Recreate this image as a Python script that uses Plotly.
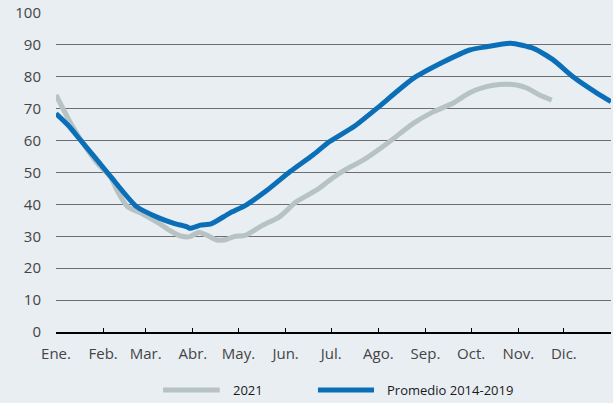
import plotly.graph_objects as go

# day of year / value pairs
days_2021 = [0, 9, 16, 27, 36, 40, 47, 57, 68, 76, 82, 88, 94, 99, 106, 112, 117,
             125, 136, 147, 158, 172, 180, 190, 202, 218, 235, 248, 261, 272, 283,
             292, 303, 310, 318, 326]
vals_2021 = [74.3, 66.0, 60.5, 53.0, 48.5, 44.5, 39.3, 37.0, 34.0, 31.5, 30.1, 29.9,
             31.3, 30.4, 28.8, 29.0, 29.9, 30.4, 33.5, 36.1, 40.8, 44.7, 47.6, 50.8,
             53.9, 59.2, 65.4, 69.0, 71.7, 75.0, 76.9, 77.6, 77.4, 76.4, 74.3, 72.7]

days_avg = [0, 8, 16, 26, 36, 53, 68, 78, 86, 88, 95, 102, 114, 125, 139, 154, 169,
            180, 196, 211, 235, 255, 272, 283, 299, 314, 327, 340, 356, 365]
vals_avg = [68.5, 64.8, 60.2, 54.5, 48.7, 39.3, 35.7, 34.0, 33.0, 32.5, 33.5, 33.9,
            37.2, 39.8, 44.5, 50.3, 55.5, 59.7, 64.4, 70.1, 79.5, 84.7, 88.4, 89.4,
            90.5, 88.9, 85.3, 80.0, 74.8, 72.2]

month_starts = [0, 31, 59, 90, 120, 151, 181, 212, 243, 273, 304, 334, 365]
month_labels = ["Ene.", "Feb.", "Mar.", "Abr.", "May.", "Jun.", "Jul.", "Ago.",
                "Sep.", "Oct.", "Nov.", "Dic.", ""]

GRAY = "#b6c3c2"
BLUE = "#0b6fb8"
BG = "#e9eef3"

fig = go.Figure()
fig.add_trace(go.Scatter(x=days_2021, y=vals_2021, mode="lines", name="2021",
                         line=dict(color=GRAY, width=5, shape="spline", smoothing=0.6)))
fig.add_trace(go.Scatter(x=days_avg, y=vals_avg, mode="lines", name="Promedio 2014-2019",
                         line=dict(color=BLUE, width=5, shape="spline", smoothing=0.6)))

# manual legend below the plot
legend_items = [("2021", GRAY, 0.193, 0.295, 0.315),
                ("Promedio 2014-2019", BLUE, 0.472, 0.573, 0.593)]
shapes = []
annotations = []
for label, color, x0, x1, xt in legend_items:
    shapes.append(dict(type="line", xref="paper", yref="paper", x0=x0, x1=x1,
                       y0=-0.182, y1=-0.182, line=dict(color=color, width=5)))
    annotations.append(dict(xref="paper", yref="paper", x=xt, y=-0.182, text=label,
                            showarrow=False, xanchor="left", yanchor="middle",
                            font=dict(size=13, color="#1a1a1a")))

fig.update_layout(
    width=613,
    height=403,
    paper_bgcolor=BG,
    plot_bgcolor=BG,
    margin=dict(l=56, r=2, t=13, b=71),
    showlegend=False,
    font=dict(family="Open Sans", size=14, color="#444444"),
    shapes=shapes,
    annotations=annotations,
    xaxis=dict(
        range=[0, 365],
        tickvals=month_starts,
        ticktext=month_labels,
        ticks="inside",
        ticklen=4,
        tickcolor="#000000",
        showline=True,
        linecolor="#000000",
        linewidth=1.5,
        showgrid=False,
        zeroline=False,
        ticklabelstandoff=7,
        tickfont=dict(size=15, color="#444444"),
    ),
    yaxis=dict(
        range=[0, 100],
        dtick=10,
        showgrid=True,
        gridcolor="#6d6e71",
        gridwidth=1.2,
        zeroline=False,
        showline=False,
        ticks="",
        ticklabelstandoff=14,
        tickfont=dict(size=15, color="#444444"),
    ),
)

fig.write_html("out.html", config={"displayModeBar": False},
               post_script="document.body.style.margin='0';")
